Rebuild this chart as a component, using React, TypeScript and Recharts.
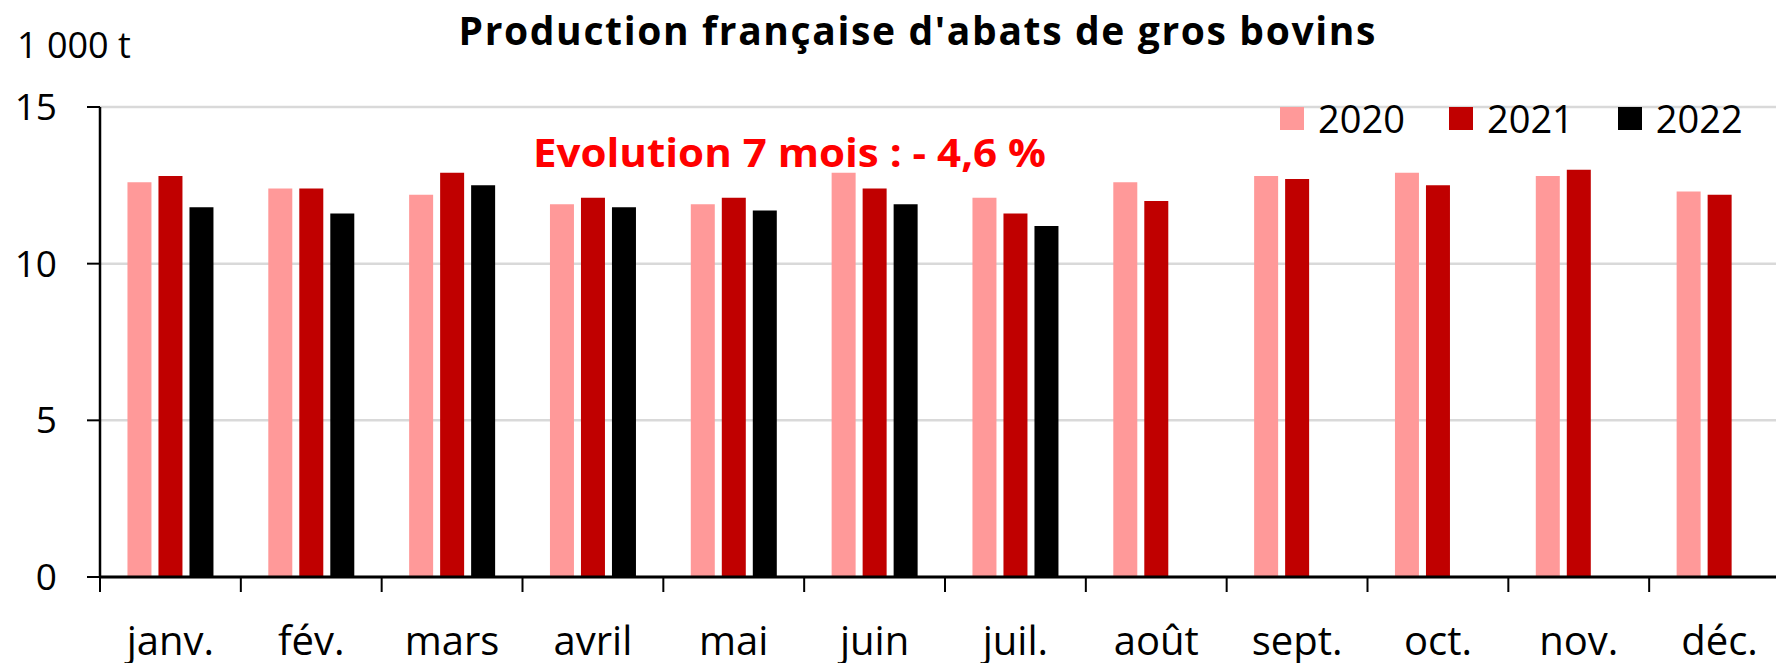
import { BarChart, Bar, XAxis, YAxis, CartesianGrid, Legend } from "recharts";

const months = ["janv.", "fév.", "mars", "avril", "mai", "juin", "juil.", "août", "sept.", "oct.", "nov.", "déc."];
const prod2020 = [12.6, 12.4, 12.2, 11.9, 11.9, 12.9, 12.1, 12.6, 12.8, 12.9, 12.8, 12.3];
const prod2021 = [12.8, 12.4, 12.9, 12.1, 12.1, 12.4, 11.6, 12.0, 12.7, 12.5, 13.0, 12.2];
const prod2022 = [11.8, 11.6, 12.5, 11.8, 11.7, 11.9, 11.2, null, null, null, null, null];
const yTicks = [0, 5, 10, 15];

const data = months.map((month, i) => ({
  month,
  y2020: prod2020[i],
  y2021: prod2021[i],
  y2022: prod2022[i],
}));

const FONT = "'Open Sans', sans-serif";
const TICK_LEN = 15;
const LABEL_GAP = 35;

// month label, plus an Excel-style tick mark on the left edge of each month band
function MonthTick(props: any) {
  const { x, y, payload, width, visibleTicksCount } = props;
  const half = width / visibleTicksCount / 2;
  const axisY = y - TICK_LEN - LABEL_GAP;
  return (
    <g>
      <line x1={x - half} x2={x - half} y1={axisY} y2={axisY + TICK_LEN} stroke="#000" strokeWidth={2} />
      <text x={x} y={y} dy="0.71em" textAnchor="middle" fill="#000" fontSize={40} fontFamily={FONT}>
        {payload.value}
      </text>
    </g>
  );
}

function LegendBox({ payload }: any) {
  return (
    <div style={{ display: "flex", alignItems: "center", fontFamily: FONT, fontSize: 38, lineHeight: 1 }}>
      {(payload || []).map((p: any) => (
        <div key={p.value} style={{ display: "flex", alignItems: "center", marginRight: 44 }}>
          <span style={{ width: 24, height: 23, background: p.color, display: "inline-block", marginRight: 14 }} />
          <span style={{ color: "#000" }}>{p.value}</span>
        </div>
      ))}
    </div>
  );
}

export default function App() {
  return (
    <div style={{ position: "absolute", left: 0, top: 0, width: 1776, height: 663, overflow: "hidden", background: "#fff" }}>
      <BarChart
        width={1790}
        height={663}
        data={data}
        margin={{ top: 107, right: 0, bottom: 0, left: 0 }}
        barCategoryGap="19.5%"
        barGap={7}
      >
        <CartesianGrid vertical={false} stroke="#d9d9d9" strokeWidth={2.5} />
        <XAxis
          dataKey="month"
          interval={0}
          axisLine={{ stroke: "#000", strokeWidth: 3 }}
          tickLine={false}
          tickSize={TICK_LEN}
          tickMargin={LABEL_GAP}
          height={86}
          tick={<MonthTick />}
        />
        <YAxis
          domain={[0, 15]}
          ticks={yTicks}
          width={100}
          tickSize={13}
          tickMargin={30}
          axisLine={{ stroke: "#000", strokeWidth: 2.5 }}
          tickLine={{ stroke: "#000", strokeWidth: 2 }}
          tick={{ fill: "#000", fontSize: 37, fontFamily: FONT }}
        />
        <Legend
          layout="vertical"
          align="center"
          verticalAlign="middle"
          content={<LegendBox />}
          wrapperStyle={{ position: "absolute", top: 99, left: 1280, width: "auto" }}
        />
        <Bar dataKey="y2020" name="2020" fill="#ff9999" isAnimationActive={false} />
        <Bar dataKey="y2021" name="2021" fill="#c00000" isAnimationActive={false} />
        <Bar dataKey="y2022" name="2022" fill="#000000" isAnimationActive={false} />
      </BarChart>
      <svg width={1776} height={663} style={{ position: "absolute", left: 0, top: 0, pointerEvents: "none" }}>
        <text x={917} y={45} textAnchor="middle" fontFamily={FONT} fontWeight={700} fontSize={39} fill="#000" textLength={917} lengthAdjust="spacing">
          Production française d'abats de gros bovins
        </text>
        <text x={17} y={58} fontFamily={FONT} fontSize={36} fill="#000">
          1 000 t
        </text>
        <text x={533} y={167} fontFamily={FONT} fontWeight={700} fontSize={40} fill="#ff0000" textLength={513} lengthAdjust="spacingAndGlyphs">
          Evolution 7 mois : - 4,6 %
        </text>
      </svg>
    </div>
  );
}
